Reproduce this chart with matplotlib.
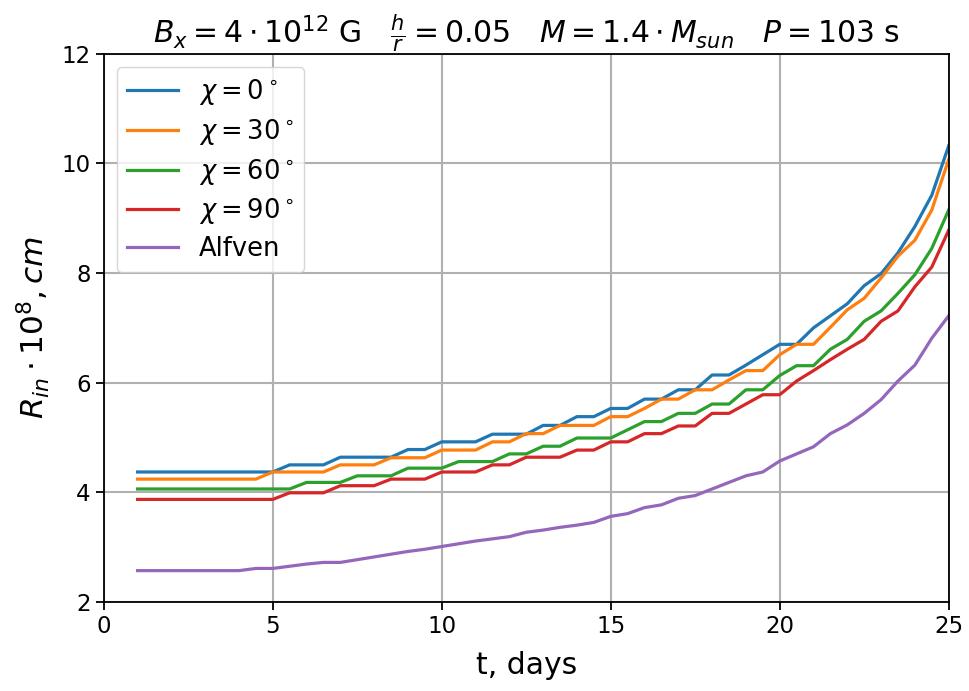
import matplotlib
matplotlib.use('Agg')
import matplotlib.pyplot as plt

# time grid, days
t = [1, 1.5, 2, 2.5, 3, 3.5, 4, 4.5, 5, 5.5, 6, 6.5, 7, 7.5, 8, 8.5, 9, 9.5,
     10, 10.5, 11, 11.5, 12, 12.5, 13, 13.5, 14, 14.5, 15, 15.5, 16, 16.5,
     17, 17.5, 18, 18.5, 19, 19.5, 20, 20.5, 21, 21.5, 22, 22.5, 23, 23.5,
     24, 24.5, 25]

# inner radius, 1e8 cm
r_chi0 = [4.37, 4.37, 4.37, 4.37, 4.37, 4.37, 4.37, 4.37, 4.37,
          4.50, 4.50, 4.50, 4.64, 4.64, 4.64, 4.64, 4.78, 4.78,
          4.92, 4.92, 4.92, 5.06, 5.06, 5.06, 5.22, 5.22, 5.38, 5.38,
          5.53, 5.53, 5.70, 5.70, 5.87, 5.87, 6.14, 6.14,
          6.32, 6.51, 6.70, 6.70, 7.00, 7.22, 7.44, 7.77, 7.99, 8.37,
          8.85, 9.42, 10.32]
r_chi30 = [4.24, 4.24, 4.24, 4.24, 4.24, 4.24, 4.24, 4.24,
           4.37, 4.37, 4.37, 4.37, 4.50, 4.50, 4.50, 4.63, 4.63, 4.63,
           4.77, 4.77, 4.77, 4.92, 4.92, 5.07, 5.07, 5.22, 5.22, 5.22,
           5.38, 5.38, 5.53, 5.70, 5.70, 5.87, 5.87, 6.05, 6.22, 6.22,
           6.51, 6.70, 6.70, 7.01, 7.33, 7.54, 7.91, 8.31, 8.60, 9.15,
           10.07]
r_chi60 = [4.06, 4.06, 4.06, 4.06, 4.06, 4.06, 4.06, 4.06, 4.06, 4.06,
           4.18, 4.18, 4.18, 4.30, 4.30, 4.30, 4.44, 4.44, 4.44,
           4.56, 4.56, 4.56, 4.70, 4.70, 4.84, 4.84, 4.99, 4.99, 4.99,
           5.14, 5.29, 5.29, 5.44, 5.44, 5.61, 5.61, 5.87, 5.87,
           6.13, 6.31, 6.31, 6.61, 6.79, 7.12, 7.31, 7.63, 7.97, 8.45,
           9.15]
r_chi90 = [3.87, 3.87, 3.87, 3.87, 3.87, 3.87, 3.87, 3.87, 3.87,
           3.99, 3.99, 3.99, 4.12, 4.12, 4.12, 4.24, 4.24, 4.24,
           4.37, 4.37, 4.37, 4.50, 4.50, 4.64, 4.64, 4.64, 4.77, 4.77,
           4.92, 4.92, 5.07, 5.07, 5.21, 5.21, 5.44, 5.44,
           5.61, 5.78, 5.78, 6.03, 6.22, 6.42, 6.61, 6.79, 7.12, 7.31,
           7.75, 8.11, 8.78]
r_alfven = [2.57, 2.57, 2.57, 2.57, 2.57, 2.57, 2.57, 2.61, 2.61, 2.65,
            2.69, 2.72, 2.72, 2.77, 2.82, 2.87, 2.92, 2.96, 3.01, 3.06,
            3.11, 3.15, 3.19, 3.27, 3.31, 3.36, 3.40, 3.45, 3.56, 3.61,
            3.72, 3.77, 3.89, 3.94, 4.06, 4.18, 4.30, 4.37, 4.57, 4.70,
            4.83, 5.07, 5.23, 5.44, 5.69, 6.03, 6.32, 6.81, 7.22]

labels = [r'$\chi = 0^\circ$', r'$\chi = 30^\circ$', r'$\chi = 60^\circ$',
          r'$\chi = 90^\circ$', 'Alfven']

fig = plt.figure(figsize=(9.7, 6.91), dpi=100)
ax = fig.add_subplot(111)
fig.subplots_adjust(left=0.107, right=0.978, top=0.922, bottom=0.129)

lw = 2.3
ax.plot(t, r_chi0, color='tab:blue', lw=lw, label=labels[0])
ax.plot(t, r_chi30, color='tab:orange', lw=lw, label=labels[1])
ax.plot(t, r_chi60, color='tab:green', lw=lw, label=labels[2])
ax.plot(t, r_chi90, color='tab:red', lw=lw, label=labels[3])
ax.plot(t, r_alfven, color='tab:purple', lw=lw, label=labels[4])

ax.set_xlim(0, 25)
ax.set_ylim(2, 12)
ax.set_xticks([0, 5, 10, 15, 20, 25])
ax.set_yticks([2, 4, 6, 8, 10, 12])
ax.tick_params(labelsize=16.5, width=1.3, length=6)
for s in ax.spines.values():
    s.set_linewidth(1.3)
ax.grid(True, color='#b0b0b0', lw=1.5)

ax.set_xlabel('t, days', fontsize=21.5, labelpad=9)
ax.set_ylabel(r'$R_{in} \cdot 10^8, cm$', fontsize=22.5, labelpad=7)
ax.set_title(r'$B_x = 4 \cdot 10^{12}$ G   $\frac{h}{r} = 0.05$   '
             r'$M = 1.4 \cdot M_{sun}$   $P = 103$ s', fontsize=21.5)

ax.legend(loc='upper left', fontsize=18.5, labelspacing=0.38)

plt.savefig('out.png', dpi=100)
